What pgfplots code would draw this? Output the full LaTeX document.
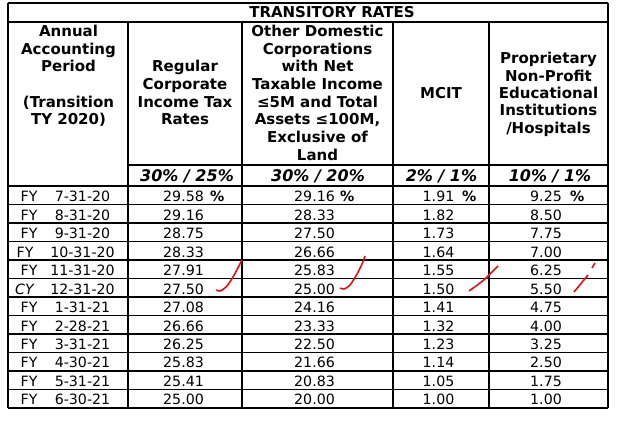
\documentclass[border=0pt]{standalone}
\usepackage{fontspec}
\setmainfont{DejaVu Sans}
\usepackage{pgfplots}
\usepackage{pgfplotstable}
\pgfplotsset{compat=1.18}
\definecolor{pen}{HTML}{D8141C}
\newcommand{\hfont}{\fontsize{15}{17.7}\selectfont\bfseries}
\newcommand{\sfont}{\fontsize{16}{19}\selectfont\bfseries\itshape}
\newcommand{\dfont}{\fontsize{14.2}{16}\selectfont}

\pgfplotstableread{
y date c2 c3 c4 c5
201.7 7-31-20 29.58 29.16 1.91 9.25
220.2 8-31-20 29.16 28.33 1.82 8.50
238.6 9-31-20 28.75 27.50 1.73 7.75
257.1 10-31-20 28.33 26.66 1.64 7.00
275.6 11-31-20 27.91 25.83 1.55 6.25
294.0 12-31-20 27.50 25.00 1.50 5.50
312.5 1-31-21 27.08 24.16 1.41 4.75
331.0 2-28-21 26.66 23.33 1.32 4.00
349.5 3-31-21 26.25 22.50 1.23 3.25
367.9 4-30-21 25.83 21.66 1.14 2.50
386.4 5-31-21 25.41 20.83 1.05 1.75
404.9 6-30-21 25.00 20.00 1.00 1.00
}\data

\begin{document}
\begin{tikzpicture}
\begin{axis}[
  scale only axis, width=634pt, height=422pt,
  xmin=0, xmax=634, ymin=0, ymax=422, y dir=reverse,
  axis line style={draw=none}, ticks=none, clip=false,
  nodes near coords align=center,
  every node near coord/.append style={inner sep=0pt, font=\dfont, text=black},
]
% grid lines of the table
\pgfplotsinvokeforeach{3,22,186,204.5,223,241.5,260,278.5,297,315.5,334,352.5,371,389.5,408}{
  \addplot[black, line width=1.2pt, mark=none] coordinates {(8,#1) (608,#1)};
}
\addplot[black, line width=1.2pt, mark=none] coordinates {(128,165) (608,165)};
\pgfplotsinvokeforeach{8,608}{
  \addplot[black, line width=1.2pt, mark=none] coordinates {(#1,3) (#1,408)};
}
\pgfplotsinvokeforeach{128,242,393,489}{
  \addplot[black, line width=1.2pt, mark=none] coordinates {(#1,22) (#1,408)};
}

% column 1
\addplot[draw=none, mark=none, nodes near coords, point meta=explicit symbolic,
  every node near coord/.append style={anchor=base}]
  table[x expr=82.5, y=y, meta=date] {\data};
\addplot[draw=none, mark=none, nodes near coords={FY},
  every node near coord/.append style={anchor=base west}]
  coordinates {(20.5,201.7)(20.5,220.2)(20.5,238.6)(16.5,257.1)(20.5,275.6)
  (20.5,312.5)(20.5,331.0)(20.5,349.5)(20.5,367.9)(20.5,386.4)(20.5,404.9)};
\addplot[draw=none, mark=none, nodes near coords={\itshape CY},
  every node near coord/.append style={anchor=base west}]
  coordinates {(15,294.0)};

% value columns
\addplot[draw=none, mark=none, nodes near coords, point meta=explicit symbolic,
  every node near coord/.append style={anchor=base west}]
  table[x expr=163, y=y, meta=c2] {\data};
\addplot[draw=none, mark=none, nodes near coords, point meta=explicit symbolic,
  every node near coord/.append style={anchor=base west}]
  table[x expr=294, y=y, meta=c3] {\data};
\addplot[draw=none, mark=none, nodes near coords, point meta=explicit symbolic,
  every node near coord/.append style={anchor=base west}]
  table[x expr=422.5, y=y, meta=c4] {\data};
\addplot[draw=none, mark=none, nodes near coords, point meta=explicit symbolic,
  every node near coord/.append style={anchor=base west}]
  table[x expr=530, y=y, meta=c5] {\data};
\addplot[draw=none, mark=none, nodes near coords={\bfseries\%},
  every node near coord/.append style={anchor=base west}]
  coordinates {(210,201.7)(340,201.7)(462,201.7)(570,201.7)};

% red hand-drawn ticks
\addplot[pen, line width=1.6pt, smooth, mark=none] coordinates {(216,290)(220,291)(226,287)(233,277)(242,260)};
\addplot[pen, line width=1.6pt, smooth, mark=none] coordinates {(340,288)(344,289)(350,285)(357,274)(362,264)(365,256)};
\addplot[pen, line width=1.6pt, smooth, mark=none] coordinates {(469,291)(476,286)(485,279)(493,271)(498,266)};
\addplot[pen, line width=1.6pt, mark=none] coordinates {(574,292)(588,275)};
\addplot[pen, line width=1.6pt, mark=none] coordinates {(592,268)(595,263)};

% headers
\node[anchor=base, font=\hfont] at (axis cs:332,18) {TRANSITORY RATES};

\node[anchor=base, font=\hfont] at (axis cs:68.5,36.5) {Annual};
\node[anchor=base, font=\hfont] at (axis cs:68.5,54.2) {Accounting};
\node[anchor=base, font=\hfont] at (axis cs:68.5,71.9) {Period};
\node[anchor=base, font=\hfont] at (axis cs:68.5,107.3) {(Transition};
\node[anchor=base, font=\hfont] at (axis cs:68.5,125.0) {TY 2020)};

\node[anchor=base, font=\hfont] at (axis cs:185,71.9) {Regular};
\node[anchor=base, font=\hfont] at (axis cs:185,89.6) {Corporate};
\node[anchor=base, font=\hfont] at (axis cs:185,107.3) {Income Tax};
\node[anchor=base, font=\hfont] at (axis cs:185,125.0) {Rates};

\node[anchor=base, font=\hfont] at (axis cs:317.5,36.5) {Other Domestic};
\node[anchor=base, font=\hfont] at (axis cs:317.5,54.2) {Corporations};
\node[anchor=base, font=\hfont] at (axis cs:317.5,71.9) {with Net};
\node[anchor=base, font=\hfont] at (axis cs:317.5,89.6) {Taxable Income};
\node[anchor=base, font=\hfont] at (axis cs:317.5,107.3) {≤5M and Total};
\node[anchor=base, font=\hfont] at (axis cs:317.5,125.0) {Assets ≤100M,};
\node[anchor=base, font=\hfont] at (axis cs:317.5,142.7) {Exclusive of};
\node[anchor=base, font=\hfont] at (axis cs:317.5,160.4) {Land};

\node[anchor=base, font=\hfont] at (axis cs:441,98.2) {MCIT};

\node[anchor=base, font=\hfont] at (axis cs:548.5,63.8) {Proprietary};
\node[anchor=base, font=\hfont] at (axis cs:548.5,81.5) {Non-Profit};
\node[anchor=base, font=\hfont] at (axis cs:548.5,98.2) {Educational};
\node[anchor=base, font=\hfont] at (axis cs:548.5,115.5) {Institutions};
\node[anchor=base, font=\hfont] at (axis cs:548.5,133.8) {/Hospitals};

\node[anchor=base, font=\sfont] at (axis cs:187,181.5) {30\% / 25\%};
\node[anchor=base, font=\sfont] at (axis cs:318,181.5) {30\% / 20\%};
\node[anchor=base, font=\sfont] at (axis cs:441.5,181.5) {2\% / 1\%};
\node[anchor=base, font=\sfont] at (axis cs:550,181.5) {10\% / 1\%};
\end{axis}
\end{tikzpicture}
\end{document}
